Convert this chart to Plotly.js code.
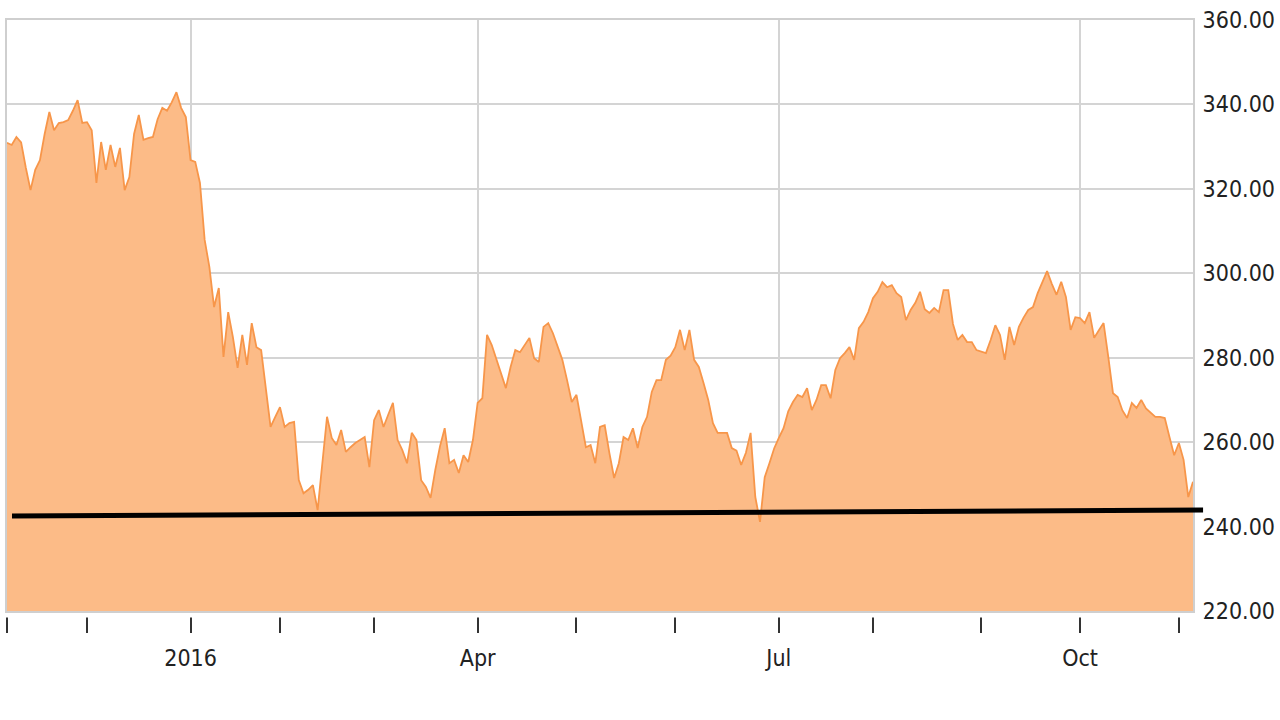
<!DOCTYPE html>
<html>
<head>
<meta charset="utf-8">
<script src="https://cdn.plot.ly/plotly-3.0.1.min.js"></script>
<style>
  html, body { margin: 0; padding: 0; background: #ffffff; }
  #chart { width: 1280px; height: 720px; }
</style>
</head>
<body>
<div id="chart"></div>
<script>
// Trading sessions (weekends and market holidays are not on the axis)
const dates = [
  '2015-11-05','2015-11-06','2015-11-09','2015-11-10','2015-11-11','2015-11-12','2015-11-13','2015-11-16','2015-11-17','2015-11-18',
  '2015-11-19','2015-11-20','2015-11-23','2015-11-24','2015-11-25','2015-11-27','2015-11-30',
  '2015-12-01','2015-12-02','2015-12-03','2015-12-04','2015-12-07','2015-12-08','2015-12-09','2015-12-10','2015-12-11','2015-12-14',
  '2015-12-15','2015-12-16','2015-12-17','2015-12-18','2015-12-21','2015-12-22','2015-12-23','2015-12-24','2015-12-28','2015-12-29',
  '2015-12-30','2015-12-31',
  '2016-01-04','2016-01-05','2016-01-06','2016-01-07','2016-01-08','2016-01-11','2016-01-12','2016-01-13','2016-01-14','2016-01-15',
  '2016-01-19','2016-01-20','2016-01-21','2016-01-22','2016-01-25','2016-01-26','2016-01-27','2016-01-28','2016-01-29',
  '2016-02-01','2016-02-02','2016-02-03','2016-02-04','2016-02-05','2016-02-08','2016-02-09','2016-02-10','2016-02-11','2016-02-12',
  '2016-02-16','2016-02-17','2016-02-18','2016-02-19','2016-02-22','2016-02-23','2016-02-24','2016-02-25','2016-02-26','2016-02-29',
  '2016-03-01','2016-03-02','2016-03-03','2016-03-04','2016-03-07','2016-03-08','2016-03-09','2016-03-10','2016-03-11','2016-03-14',
  '2016-03-15','2016-03-16','2016-03-17','2016-03-18','2016-03-21','2016-03-22','2016-03-23','2016-03-24','2016-03-28','2016-03-29',
  '2016-03-30','2016-03-31',
  '2016-04-01','2016-04-04','2016-04-05','2016-04-06','2016-04-07','2016-04-08','2016-04-11','2016-04-12','2016-04-13','2016-04-14',
  '2016-04-15','2016-04-18','2016-04-19','2016-04-20','2016-04-21','2016-04-22','2016-04-25','2016-04-26','2016-04-27','2016-04-28',
  '2016-04-29',
  '2016-05-02','2016-05-03','2016-05-04','2016-05-05','2016-05-06','2016-05-09','2016-05-10','2016-05-11','2016-05-12','2016-05-13',
  '2016-05-16','2016-05-17','2016-05-18','2016-05-19','2016-05-20','2016-05-23','2016-05-24','2016-05-25','2016-05-26','2016-05-27',
  '2016-05-31',
  '2016-06-01','2016-06-02','2016-06-03','2016-06-06','2016-06-07','2016-06-08','2016-06-09','2016-06-10','2016-06-13','2016-06-14',
  '2016-06-15','2016-06-16','2016-06-17','2016-06-20','2016-06-21','2016-06-22','2016-06-23','2016-06-24','2016-06-27','2016-06-28',
  '2016-06-29','2016-06-30',
  '2016-07-01','2016-07-05','2016-07-06','2016-07-07','2016-07-08','2016-07-11','2016-07-12','2016-07-13','2016-07-14','2016-07-15',
  '2016-07-18','2016-07-19','2016-07-20','2016-07-21','2016-07-22','2016-07-25','2016-07-26','2016-07-27','2016-07-28','2016-07-29',
  '2016-08-01','2016-08-02','2016-08-03','2016-08-04','2016-08-05','2016-08-08','2016-08-09','2016-08-10','2016-08-11','2016-08-12',
  '2016-08-15','2016-08-16','2016-08-17','2016-08-18','2016-08-19','2016-08-22','2016-08-23','2016-08-24','2016-08-25','2016-08-26',
  '2016-08-29','2016-08-30','2016-08-31',
  '2016-09-01','2016-09-02','2016-09-06','2016-09-07','2016-09-08','2016-09-09','2016-09-12','2016-09-13','2016-09-14','2016-09-15',
  '2016-09-16','2016-09-19','2016-09-20','2016-09-21','2016-09-22','2016-09-23','2016-09-26','2016-09-27','2016-09-28','2016-09-29',
  '2016-09-30',
  '2016-10-03','2016-10-04','2016-10-05','2016-10-06','2016-10-07','2016-10-10','2016-10-11','2016-10-12','2016-10-13','2016-10-14',
  '2016-10-17','2016-10-18','2016-10-19','2016-10-20','2016-10-21','2016-10-24','2016-10-25','2016-10-26','2016-10-27','2016-10-28',
  '2016-10-31',
  '2016-11-01','2016-11-02','2016-11-03','2016-11-04'
];

const prices = [
  330.9,330.4,332.3,331.0,325.0,319.7,324.5,326.8,333.0,338.2,
  333.9,335.6,335.8,336.3,338.5,341.0,335.6,335.8,333.9,321.4,
  331.1,324.5,330.4,325.2,329.7,319.7,322.8,333.0,337.5,331.6,
  332.0,332.3,336.5,339.2,338.5,340.5,342.9,339.2,337.0,326.8,
  326.4,321.4,307.9,301.5,292.0,296.5,280.2,290.8,284.9,277.6,
  285.4,278.3,288.2,282.5,281.8,272.0,263.6,266.0,268.3,263.6,
  264.5,264.8,251.0,247.9,248.7,249.8,243.9,255.0,266.0,261.0,
  259.3,262.9,257.7,258.8,259.8,260.5,261.2,254.1,265.2,267.6,
  263.6,266.5,269.3,260.5,258.1,255.0,262.2,260.5,251.0,249.4,
  246.8,253.4,259.0,263.3,255.0,255.8,252.7,256.9,255.3,260.5,
  269.3,270.4,285.4,283.0,279.5,276.0,272.8,277.8,281.8,281.3,
  283.0,284.7,279.9,279.0,287.3,288.2,285.8,282.5,279.5,274.7,
  269.5,271.2,265.2,258.8,259.3,255.0,263.6,264.0,257.4,251.5,
  255.0,261.2,260.5,263.3,258.6,263.6,266.0,271.9,274.7,274.7,
  279.5,280.5,282.5,286.6,281.8,286.6,279.5,277.8,274.0,270.0,
  264.5,262.2,262.2,262.2,258.6,258.0,254.6,257.5,262.2,247.0,
  241.1,251.7,255.0,258.5,261.0,263.3,267.3,269.5,271.2,270.7,
  272.8,267.6,270.0,273.5,273.5,270.4,277.1,279.9,281.1,282.5,
  279.5,287.0,288.5,290.8,294.1,295.6,297.9,296.7,297.2,295.3,
  294.4,288.9,291.3,293.0,295.6,291.5,290.6,291.8,290.8,296.0,
  296.0,288.0,284.2,285.4,283.7,283.7,281.8,281.5,281.1,284.2,
  287.7,285.4,279.5,287.3,283.0,287.3,289.5,291.3,292.0,295.3,
  297.7,300.5,297.5,294.9,298.0,294.4,286.6,289.6,289.4,288.2,
  290.8,284.7,286.5,288.2,280.2,271.6,270.7,267.5,265.7,269.3,
  268.1,270.0,268.0,267.1,266.0,266.0,265.7,261.2,256.9,259.8,
  255.8,247.0,250.6
];

const holidays = ['2015-11-26','2015-12-25','2016-01-01','2016-01-18','2016-02-15','2016-03-25','2016-05-30','2016-07-04','2016-09-05'];

const quarterTickDates = ['2016-01-04','2016-04-01','2016-07-01','2016-10-03'];
const quarterTickLabels = ['2016','Apr','Jul','Oct'];
const monthTickDates = ['2015-11-05','2015-12-01','2016-02-01','2016-03-01','2016-05-02','2016-06-01','2016-08-01','2016-09-01','2016-11-01'];

const yTickValues = [220, 240, 260, 280, 300, 320, 340, 360];

// Support line drawn across the chart (start value, end value)
const supportLine = [242.5, 243.9];

const FONT = '"DejaVu Sans Condensed", "Liberation Sans Narrow", "Liberation Sans", Arial, sans-serif';
const GRID = '#d4d4d4';

const trace = {
  x: dates,
  y: prices,
  type: 'scatter',
  mode: 'lines',
  fill: 'tozeroy',
  fillcolor: 'rgb(252,187,135)',
  line: { color: '#F7964A', width: 1.8 },
  hoverinfo: 'x+y'
};

const layout = {
  width: 1280,
  height: 720,
  margin: { l: 7, r: 87, t: 20, b: 109 },
  paper_bgcolor: '#ffffff',
  plot_bgcolor: '#ffffff',
  showlegend: false,
  xaxis: {
    type: 'date',
    range: [dates[0], dates[dates.length - 1]],
    rangebreaks: [
      { bounds: ['sat', 'mon'] },
      { values: holidays }
    ],
    tickmode: 'array',
    tickvals: quarterTickDates,
    ticktext: quarterTickLabels,
    ticks: 'outside',
    ticklen: 20,
    tickwidth: 2,
    tickcolor: '#333333',
    ticklabelstandoff: 5,
    tickfont: { family: FONT, size: 23, color: '#222222' },
    showgrid: true,
    gridcolor: GRID,
    gridwidth: 2,
    showline: true,
    mirror: true,
    linecolor: '#cfcfcf',
    linewidth: 2,
    zeroline: false,
    minor: {
      tickmode: 'array',
      tickvals: monthTickDates,
      ticks: 'outside',
      ticklen: 20,
      tickwidth: 2,
      tickcolor: '#333333',
      showgrid: false
    },
    fixedrange: true
  },
  yaxis: {
    side: 'right',
    range: [220, 360],
    tickmode: 'array',
    tickvals: yTickValues,
    tickformat: '.2f',
    ticks: '',
    ticklabelstandoff: 3,
    tickfont: { family: FONT, size: 23, color: '#222222' },
    showgrid: true,
    gridcolor: GRID,
    gridwidth: 2,
    showline: true,
    mirror: true,
    linecolor: '#cfcfcf',
    linewidth: 2,
    zeroline: false,
    fixedrange: true
  },
  shapes: [
    {
      type: 'rect', xref: 'paper', yref: 'paper',
      x0: -0.01, x1: 1.01, y0: -0.0035, y1: -0.011,
      fillcolor: '#ffffff', line: { width: 0 }, layer: 'above'
    },
    {
      type: 'line', xref: 'paper', yref: 'y',
      x0: 0.0042, x1: 1.0085,
      y0: supportLine[0], y1: supportLine[1],
      line: { color: '#000000', width: 5 },
      layer: 'above'
    }
  ]
};

Plotly.newPlot('chart', [trace], layout, { displayModeBar: false, staticPlot: true });
</script>
</body>
</html>
